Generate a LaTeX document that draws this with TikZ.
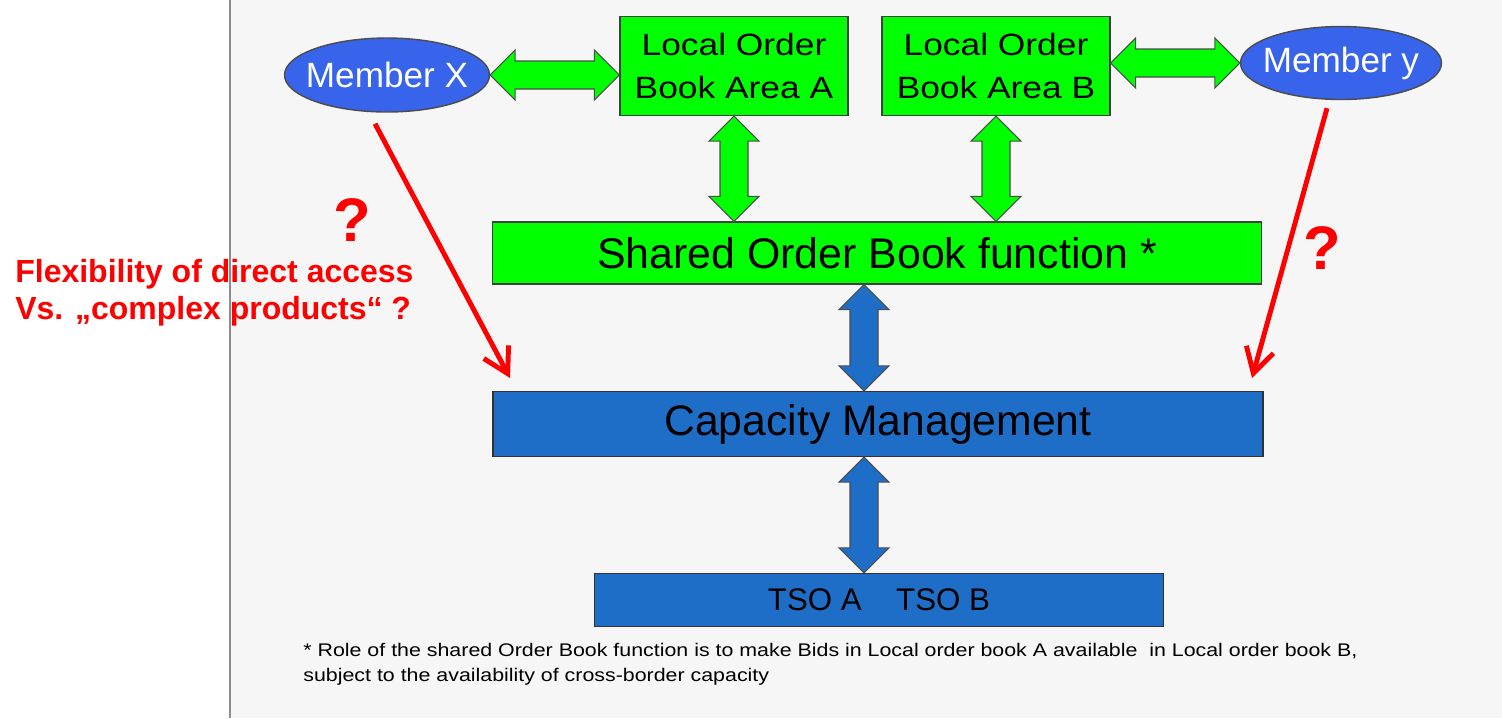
\documentclass[tikz,border=0pt]{standalone}
\usepackage{fontspec}
\setmainfont{Liberation Sans}
\usetikzlibrary{calc,shapes.geometric,arrows.meta}

\definecolor{memberblue}{RGB}{55,100,235}
\definecolor{boxblue}{RGB}{30,110,200}
\definecolor{bookgreen}{RGB}{0,255,0}
\definecolor{slidegray}{RGB}{246,246,246}
\definecolor{notered}{RGB}{255,0,0}

% fat double headed arrow from #2 to #3
\newcommand{\fatarrow}[3]{%
 \coordinate (fa) at (#2);
 \coordinate (fb) at (#3);
 \draw[#1] (fa)
   -- ($(fa)!0.5cm!(fb)!0.5cm!90:(fb)$)
   -- ($(fa)!0.5cm!(fb)!0.28cm!90:(fb)$)
   -- ($(fb)!0.5cm!(fa)!0.28cm!-90:(fa)$)
   -- ($(fb)!0.5cm!(fa)!0.5cm!-90:(fa)$)
   -- (fb)
   -- ($(fb)!0.5cm!(fa)!0.5cm!90:(fa)$)
   -- ($(fb)!0.5cm!(fa)!0.28cm!90:(fa)$)
   -- ($(fa)!0.5cm!(fb)!0.28cm!-90:(fb)$)
   -- ($(fa)!0.5cm!(fb)!0.5cm!-90:(fb)$)
   -- cycle;
}

\begin{document}
\begin{tikzpicture}[x=0.02cm,y=-0.02cm]
 \tikzstyle{member} = [ellipse,draw=black!70,fill=memberblue,text=white,line width=0.8pt,inner xsep=-6pt,font=\fontsize{20}{24}\selectfont];
 \tikzstyle{book} = [rectangle,draw=black!75,fill=bookgreen,line width=0.8pt,align=center,inner sep=0pt,
                     font=\fontsize{17.5}{24.5}\selectfont\addfontfeatures{FakeStretch=1.15}];
 \tikzstyle{layer} = [rectangle,draw=black!80,fill=boxblue,line width=0.8pt,inner sep=0pt];
 \tikzstyle{greenarrow} = [draw=black!70,fill=bookgreen,line width=0.6pt];
 \tikzstyle{bluearrow} = [draw=black!70,fill=boxblue,line width=0.6pt];
 \tikzstyle{redarrow} = [notered,line width=2.8pt,-{Straight Barb[length=14pt,width=16pt]}];
 \tikzstyle{redtext} = [text=notered,font=\bfseries\fontsize{18.2}{21}\selectfont,inner sep=0pt];

 % slide background
 \useasboundingbox (0,0) rectangle (1502,718);
 \fill[slidegray] (230,0) rectangle (1502,718);
 \draw[black!45,line width=1.2pt] (230,0) -- (230,718);

 \node[member,minimum width=4.1cm,minimum height=1.48cm,name=memX] at (387,75) {Member X};
 \node[member,minimum width=4.02cm,minimum height=1.46cm,name=memY] at (1341,63) {Member y};

 \node[book,minimum width=4.56cm,minimum height=1.98cm,name=lobA] at (734,66) {Local Order\\Book Area A};
 \node[book,minimum width=4.56cm,minimum height=1.98cm,name=lobB] at (996,66) {Local Order\\Book Area B};

 \node[book,minimum width=15.38cm,minimum height=1.24cm,name=sob,
       font=\fontsize{24.4}{28}\selectfont] at (877,253) {Shared Order Book function *};
 \node[layer,minimum width=15.4cm,minimum height=1.3cm,name=capm,
       font=\fontsize{24.3}{28}\selectfont] at (878,424) {Capacity Management};
 \node[layer,minimum width=11.38cm,minimum height=1.06cm,name=tso,
       font=\fontsize{17.8}{20}\selectfont] at (879,600) {TSO A\hspace{1.1em}TSO B};

 \coordinate (bx) at (864,0);
 \fatarrow{greenarrow}{memX.east}{memX.east -| lobA.west}
 \fatarrow{greenarrow}{lobB.east |- memY.west}{memY.west}
 \fatarrow{greenarrow}{lobA.south}{lobA.south |- sob.north}
 \fatarrow{greenarrow}{lobB.south}{lobB.south |- sob.north}
 \fatarrow{bluearrow}{bx |- sob.south}{bx |- capm.north}
 \fatarrow{bluearrow}{bx |- capm.south}{bx |- tso.north}

 \coordinate (xend) at (510,378);
 \coordinate (yend) at (1252,378);
 \draw[redarrow] ($(memX.south)+(-12,11)$) -- (xend);
 \draw[redarrow] ($(memY.south)+(-14,8)$) -- (yend);

 \node[redtext,font=\bfseries\fontsize{35}{40}\selectfont,name=qX] at (352,220) {?};
 \node[redtext,font=\bfseries\fontsize{35}{40}\selectfont,name=qY] at (1322,248) {?};
 \node[redtext,align=left,anchor=north west,name=flex] at (15,259)
      {Flexibility of direct access\\Vs. „complex products“ ?};

 \node[anchor=north west,align=left,inner sep=0pt,name=note,
       font=\fontsize{10.4}{14.2}\selectfont\addfontfeatures{FakeStretch=1.17}] at (303,643)
      {* Role of the shared Order Book function is to make Bids in Local order book A available\ \ in Local order book B,\\
       subject to the availability of cross-border capacity};
\end{tikzpicture}
\end{document}
